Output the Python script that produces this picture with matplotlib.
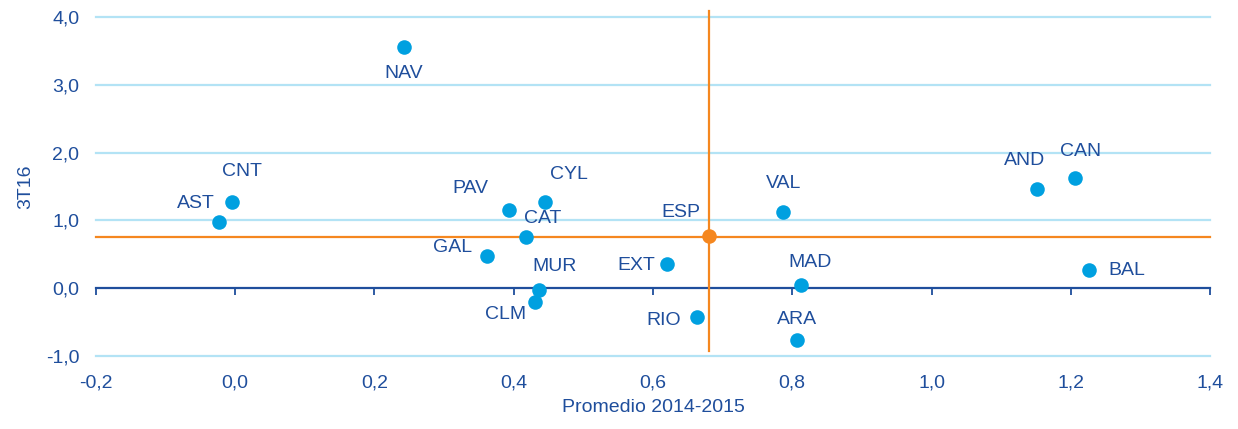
import matplotlib.pyplot as plt
from matplotlib.ticker import FuncFormatter

plt.rcParams["font.family"] = ["Liberation Sans", "DejaVu Sans"]

regions = ["NAV", "CNT", "AST", "PAV", "CYL", "CAT", "GAL", "MUR", "CLM",
           "EXT", "RIO", "VAL", "MAD", "ARA", "AND", "CAN", "BAL"]
promedio = [0.242, -0.005, -0.023, 0.393, 0.445, 0.417, 0.362, 0.437, 0.431,
            0.620, 0.663, 0.787, 0.812, 0.807, 1.152, 1.206, 1.226]
t316 = [3.56, 1.27, 0.98, 1.16, 1.27, 0.75, 0.48, -0.02, -0.20,
        0.36, -0.43, 1.13, 0.04, -0.76, 1.47, 1.62, 0.27]
esp_x, esp_y = 0.68, 0.75

xticks = [-0.2, 0.0, 0.2, 0.4, 0.6, 0.8, 1.0, 1.2, 1.4]
yticks = [-1, 0, 1, 2, 3, 4]

# label offsets in pixels (dx, dy)
offsets = {
    "NAV": (0, -27), "CNT": (10, 31), "AST": (-23, 18), "PAV": (-38, 21),
    "CYL": (24, 28), "CAT": (17, 19), "GAL": (-35, 8), "MUR": (15, 23),
    "CLM": (-30, -13), "EXT": (-31, -2), "RIO": (-33, -3), "VAL": (0, 28),
    "MAD": (9, 23), "ARA": (0, 20), "AND": (-13, 28), "CAN": (6, 27),
    "BAL": (38, -1),
}

dark = "#1f4e9c"
dot = "#00a0e0"
orange = "#f5871f"
grid = "#b3e3f5"
fs = 14

fig = plt.figure(figsize=(12.38, 4.29), dpi=100)
ax = fig.add_axes([0.0775, 0.1702, 0.8999, 0.7902])

ax.set_xlim(-0.2, 1.4)
ax.set_ylim(-1, 4)
ax.set_yticks(yticks)
ax.set_xticks(xticks)
fmt = FuncFormatter(lambda v, p: f"{v:.1f}".replace(".", ","))
ax.yaxis.set_major_formatter(fmt)
ax.xaxis.set_major_formatter(fmt)

for y in yticks:
    if y != 0:
        ax.axhline(y, color=grid, lw=1.6, zorder=0, clip_on=False)

for s in ax.spines.values():
    s.set_visible(False)
ax.tick_params(axis="both", length=0, labelsize=fs, labelcolor=dark)
ax.tick_params(axis="x", pad=13)
ax.tick_params(axis="y", pad=12)

# axis line at y = 0 with tick marks
sec = ax.secondary_xaxis(0.2)
sec.set_xticks(xticks)
sec.set_xticklabels([])
sec.spines["bottom"].set_color(dark)
sec.spines["bottom"].set_linewidth(1.6)
sec.tick_params(axis="x", direction="out", length=5, width=1.3, color=dark)

# mean lines
ax.plot([-0.2, 1.4], [esp_y, esp_y], color=orange, lw=1.6, zorder=2, clip_on=False)
ax.plot([esp_x, esp_x], [-0.92, 4.09], color=orange, lw=1.6, zorder=2, clip_on=False)

ax.scatter(promedio, t316, s=110, color=dot, zorder=4, linewidths=0)
ax.scatter([esp_x], [esp_y + 0.015], s=110, color=orange, zorder=4, linewidths=0)

for name, x, y in zip(regions, promedio, t316):
    dx, dy = offsets[name]
    ax.annotate(name, (x, y), xytext=(dx, dy), textcoords="offset pixels",
                ha="center", va="center", fontsize=fs, color=dark)
ax.annotate("ESP", (esp_x, esp_y), xytext=(-28, 25), textcoords="offset pixels",
            ha="center", va="center", fontsize=fs, color=dark)

ax.set_xlabel("Promedio 2014-2015", fontsize=fs, color=dark, labelpad=6)
ax.set_ylabel("3T16", fontsize=fs, color=dark, labelpad=8)

fig.savefig("out.png", dpi=100)
